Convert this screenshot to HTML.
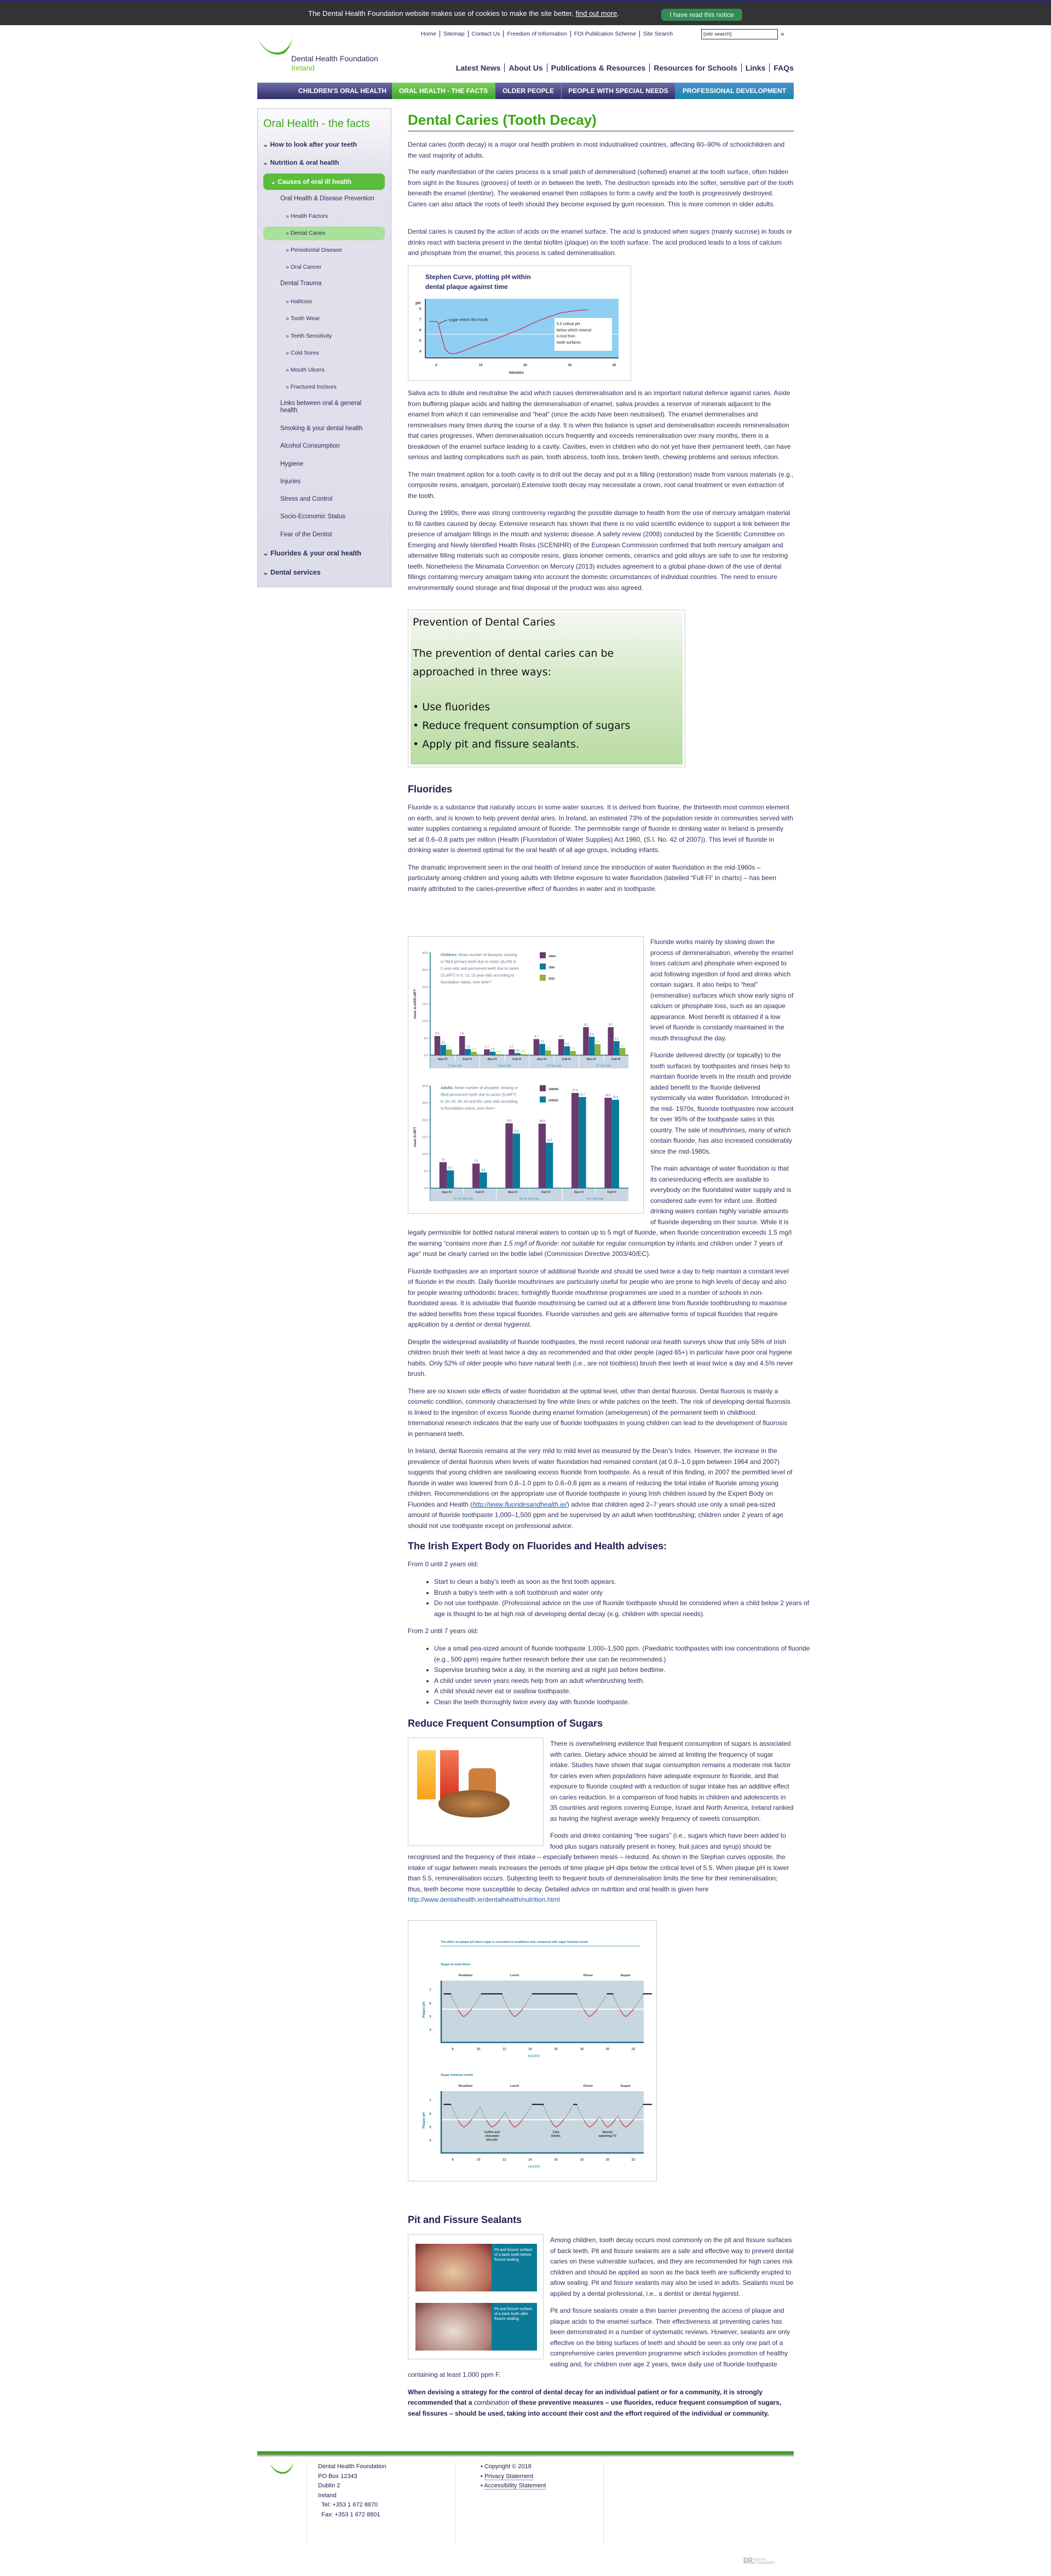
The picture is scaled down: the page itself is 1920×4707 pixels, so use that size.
<!DOCTYPE html>
<html><head><meta charset="utf-8"><title>Dental Caries (Tooth Decay)</title>
<style>
*{box-sizing:border-box;margin:0;padding:0}
body{width:1920px;height:4707px;position:relative;background:#fff;font-family:"Liberation Sans",Arial,sans-serif;color:#2b2d5c;overflow:hidden}
.abs{position:absolute}
.p{font-size:12px;line-height:19.5px;color:#2f3163}
.flow p{font-size:12px;line-height:19.5px;color:#2f3163;margin-bottom:12px}
h2{font-size:18px;color:#20224f;font-weight:bold}
.side a{position:absolute;font-size:11.5px;color:#2b2d5c;text-decoration:none}
.util span{padding:0 6px;border-right:1px solid #2b2d5c}
.nav span{padding:0 7px;border-right:1px solid #2b2d5c}
ul.b{margin-left:48px;font-size:12px;line-height:19.5px;color:#2f3163}
</style></head><body>

<!-- cookie bar -->
<div class="abs" style="left:0;top:0;width:1920px;height:46px;background:#333;border-top:4px solid #2a2a6a">
  <div class="abs" style="left:563px;top:13px;color:#fff;font-size:13px">The Dental Health Foundation website makes use of cookies to make the site better, <u>find out more</u>.</div>
  <div class="abs" style="left:1208px;top:12px;width:148px;height:22px;background:#2f8c55;border-radius:6px;color:#fff;font-size:12px;text-align:center;line-height:22px">I have read this notice</div>
</div>

<!-- utility nav -->
<div class="abs util" style="left:763px;top:56px;font-size:10.5px;color:#2b2d5c;white-space:nowrap">
<span>Home</span><span>Sitemap</span><span>Contact Us</span><span>Freedom of Information</span><span>FOI Publication Scheme</span><span style="border:none">Site Search</span></div>
<div class="abs" style="left:1281px;top:53px;width:140px;height:19px;border:1.5px solid #2b2d5c;font-size:9.5px;padding:3px 3px;color:#333">[site search]</div>
<div class="abs" style="left:1426px;top:55px;font-size:12px;color:#2b2d5c">»</div>

<!-- logo -->
<svg class="abs" style="left:470px;top:64px" width="80" height="44"><path d="M2 8 C12 30 30 40 48 34 C58 28 62 14 66 2 C60 20 50 32 36 32 C20 32 10 22 2 8Z" fill="#46b21a"/></svg>
<div class="abs" style="left:532px;top:99px;font-size:14px;color:#2b2d5c;line-height:17px">Dental Health Foundation<br><span style="color:#6cbf2a">Ireland</span></div>

<!-- main nav -->
<div class="abs nav" style="right:470px;top:116px;font-size:14px;font-weight:bold;color:#2b2d5c;white-space:nowrap">
<span>Latest News</span><span>About Us</span><span>Publications &amp; Resources</span><span>Resources for Schools</span><span>Links</span><span style="border:none;padding-right:0">FAQs</span></div>

<!-- category bar -->
<div class="abs" style="left:470px;top:151px;width:980px;height:30px;font-size:12px;font-weight:bold;color:#fff;line-height:30px;white-space:nowrap">
<div class="abs" style="left:0;width:246px;height:30px;background:linear-gradient(#6d6da8,#2d2d68);text-align:right;padding-right:10px">CHILDREN'S ORAL HEALTH</div>
<div class="abs" style="left:246px;width:188px;height:30px;background:linear-gradient(#7ed05a,#3ea82a);text-align:center">ORAL HEALTH - THE FACTS</div>
<div class="abs" style="left:434px;width:121px;height:30px;background:linear-gradient(#6d6da8,#2d2d68);text-align:center;border-left:1px solid #8888bb">OLDER PEOPLE</div>
<div class="abs" style="left:555px;width:208px;height:30px;background:linear-gradient(#6d6da8,#2d2d68);text-align:center;border-left:1px solid #8888bb">PEOPLE WITH SPECIAL NEEDS</div>
<div class="abs" style="left:763px;width:217px;height:30px;background:linear-gradient(#4a8fd0,#1d86a8);text-align:center">PROFESSIONAL DEVELOPMENT</div>
</div>

<!-- sidebar -->
<div class="abs side" style="left:470px;top:198px;width:245px;height:875px;border:1px solid #c0bfd8;background:linear-gradient(#fbfbfd 0,#e2e1ec 120px,#deddea 100%)">
<div class="abs" style="left:10px;top:16px;font-size:20px;color:#3aa815">Oral Health - the facts</div>
<a style="left:9px;top:58px;font-weight:bold;font-size:12px">&#8964; How to look after your teeth</a>
<a style="left:9px;top:91px;font-weight:bold;font-size:12px">&#8964; Nutrition &amp; oral health</a>
<div class="abs" style="left:10px;top:118px;width:222px;height:30px;background:#5cbd3a;border-radius:8px;color:#fff;font-weight:bold;font-size:12px;padding:8px 13px">&#8964; Causes of oral ill health</div>
<a style="left:41px;top:158px">Oral Health &amp; Disease Prevention</a>
<a style="left:51px;top:190px;font-size:10.5px">» Health Factors</a>
<div class="abs" style="left:10px;top:215px;width:222px;height:25px;background:#a9e09a;border-radius:8px;font-size:10.5px;padding:6px 41px">» Dental Caries</div>
<a style="left:51px;top:252px;font-size:10.5px">» Periodontal Disease</a>
<a style="left:51px;top:283px;font-size:10.5px">» Oral Cancer</a>
<a style="left:41px;top:313px">Dental Trauma</a>
<a style="left:51px;top:346px;font-size:10.5px">» Halitosis</a>
<a style="left:51px;top:377px;font-size:10.5px">» Tooth Wear</a>
<a style="left:51px;top:409px;font-size:10.5px">» Teeth Sensitivity</a>
<a style="left:51px;top:440px;font-size:10.5px">» Cold Sores</a>
<a style="left:51px;top:471px;font-size:10.5px">» Mouth Ulcers</a>
<a style="left:51px;top:502px;font-size:10.5px">» Fractured Incisors</a>
<a style="left:41px;top:532px;line-height:13px">Links between oral &amp; general<br>health</a>
<a style="left:41px;top:578px">Smoking &amp; your dental health</a>
<a style="left:41px;top:610px">Alcohol Consumption</a>
<a style="left:41px;top:643px">Hygiene</a>
<a style="left:41px;top:675px">Injuries</a>
<a style="left:41px;top:707px">Stress and Control</a>
<a style="left:41px;top:739px">Socio-Economic Status</a>
<a style="left:41px;top:772px">Fear of the Dentist</a>
<a style="left:9px;top:804px;font-weight:bold;font-size:12.5px">&#8964; Fluorides &amp; your oral health</a>
<a style="left:9px;top:839px;font-weight:bold;font-size:12.5px">&#8964; Dental services</a>
</div>

<!-- title -->
<div class="abs" style="left:745px;top:204px;width:705px;height:36px;border-bottom:1.5px solid #2b2d5c;font-size:26px;font-weight:bold;color:#3aa815">Dental Caries (Tooth Decay)</div>

<div class="abs p" style="left:745px;top:255px;width:705px">Dental caries (tooth decay) is a major oral health problem in most industrialised countries, affecting 60–90% of schoolchildren and the vast majority of adults.</div>
<div class="abs p" style="left:745px;top:305px;width:705px">The early manifestation of the caries process is a small patch of demineralised (softened) enamel at the tooth surface, often hidden from sight in the fissures (grooves) of teeth or in between the teeth. The destruction spreads into the softer, sensitive part of the tooth beneath the enamel (dentine). The weakened enamel then collapses to form a cavity and the tooth is progressively destroyed. Caries can also attack the roots of teeth should they become exposed by gum recession. This is more common in older adults.</div>
<div class="abs p" style="left:745px;top:414px;width:705px">Dental caries is caused by the action of acids on the enamel surface. The acid is produced when sugars (mainly sucrose) in foods or drinks react with bacteria present in the dental biofilm (plaque) on the tooth surface. The acid produced leads to a loss of calcium and phosphate from the enamel; this process is called demineralisation.</div>

<!-- Stephan curve -->
<svg class="abs" id="stephan" style="left:745px;top:485px;border:1px solid #ccc;background:#fff" width="408" height="211"></svg>

<div class="abs flow" style="left:745px;top:709px;width:705px">
<p>Saliva acts to dilute and neutralise the acid which causes demineralisation and is an important natural defence against caries. Aside from buffering plaque acids and halting the demineralisation of enamel, saliva provides a reservoir of minerals adjacent to the enamel from which it can remineralise and “heal” (once the acids have been neutralised). The enamel demineralises and remineralises many times during the course of a day. It is when this balance is upset and demineralisation exceeds remineralisation that caries progresses. When demineralisation occurs frequently and exceeds remineralisation over many months, there is a breakdown of the enamel surface leading to a cavity. Cavities, even in children who do not yet have their permanent teeth, can have serious and lasting complications such as pain, tooth abscess, tooth loss, broken teeth, chewing problems and serious infection.</p>
<p>The main treatment option for a tooth cavity is to drill out the decay and put in a filling (restoration) made from various materials (e.g., composite resins, amalgam, porcelain).Extensive tooth decay may necessitate a crown, root canal treatment or even extraction of the tooth.</p>
<p>During the 1990s, there was strong controversy regarding the possible damage to health from the use of mercury amalgam material to fill cavities caused by decay. Extensive research has shown that there is no valid scientific evidence to support a link between the presence of amalgam fillings in the mouth and systemic disease. A safety review (2008) conducted by the Scientific Committee on Emerging and Newly Identified Health Risks (SCENIHR) of the European Commission confirmed that both mercury amalgam and alternative filling materials such as composite resins, glass ionomer cements, ceramics and gold alloys are safe to use for restoring teeth. Nonetheless the Minamata Convention on Mercury (2013) includes agreement to a global phase-down of the use of dental fillings containing mercury amalgam taking into account the domestic circumstances of individual countries. The need to ensure environmentally sound storage and final disposal of the product was also agreed.</p>
</div>

<!-- prevention image -->
<div class="abs" style="left:745px;top:1114px;width:507px;height:288px;border:1px solid #ccc;padding:4px">
<div style="width:100%;height:100%;background:linear-gradient(#f6f8f4,#d8eacb 40%,#b9dca4);font-family:'DejaVu Sans',sans-serif;color:#111;padding:6px 4px">
<div style="font-size:19px;line-height:24px">Prevention of Dental Caries</div>
<div style="font-size:19px;line-height:34px;margin-top:28px">The prevention of dental caries can be<br>approached in three ways:</div>
<div style="font-size:19px;line-height:34px;margin-top:30px">• Use fluorides<br>• Reduce frequent consumption of sugars<br>• Apply pit and fissure sealants.</div>
</div></div>

<h2 class="abs" style="left:745px;top:1432px">Fluorides</h2>
<div class="abs flow" style="left:745px;top:1466px;width:705px">
<p>Fluoride is a substance that naturally occurs in some water sources. It is derived from fluorine, the thirteenth most common element on earth, and is known to help prevent dental aries. In Ireland, an estimated 73% of the population reside in communities served with water supplies containing a regulated amount of fluoride. The permissible range of fluoride in drinking water in Ireland is presently set at 0.6–0.8 parts per million (Health (Fluoridation of Water Supplies) Act 1960, (S.I. No. 42 of 2007)). This level of fluoride in drinking water is deemed optimal for the oral health of all age groups, including infants.</p>
<p>The dramatic improvement seen in the oral health of Ireland since the introduction of water fluoridation in the mid-1960s – particularly among children and young adults with lifetime exposure to water fluoridation (labelled “Full Fl” in charts) – has been mainly attributed to the caries-preventive effect of fluorides in water and in toothpaste.</p>
</div>

<div class="abs flow" style="left:745px;top:1711px;width:705px">
<svg id="dmft" style="float:left;margin:0 12px 6px 0;border:1px solid #ccc;background:#fff" width="431" height="507"></svg>
<p style="padding-top:1px">Fluoride works mainly by slowing down the process of demineralisation, whereby the enamel loses calcium and phosphate when exposed to acid following ingestion of food and drinks which contain sugars. It also helps to “heal” (remineralise) surfaces which show early signs of calcium or phosphate loss, such as an opaque appearance. Most benefit is obtained if a low level of fluoride is constantly maintained in the mouth throughout the day.</p>
<p>Fluoride delivered directly (or topically) to the tooth surfaces by toothpastes and rinses help to maintain fluoride levels in the mouth and provide added benefit to the fluoride delivered systemically via water fluoridation. Introduced in the mid- 1970s, fluoride toothpastes now account for over 95% of the toothpaste sales in this country. The sale of mouthrinses, many of which contain fluoride, has also increased considerably since the mid-1980s.</p>
<p>The main advantage of water fluoridation is that its cariesreducing effects are available to everybody on the fluoridated water supply and is considered safe even for infant use. Bottled drinking waters contain highly variable amounts of fluoride depending on their source. While it is legally permissible for bottled natural mineral waters to contain up to 5 mg/l of fluoride, when fluoride concentration exceeds 1.5 mg/l the warning <i>“contains more than 1.5 mg/l of fluoride: not suitable</i> for regular consumption by infants and children under 7 years of age” must be clearly carried on the bottle label (Commission Directive 2003/40/EC).</p>
<p>Fluoride toothpastes are an important source of additional fluoride and should be used twice a day to help maintain a constant level of fluoride in the mouth. Daily fluoride mouthrinses are particularly useful for people who are prone to high levels of decay and also for people wearing orthodontic braces; fortnightly fluoride mouthrinse programmes are used in a number of schools in non-fluoridated areas. It is advisable that fluoride mouthrinsing be carried out at a different time from fluoride toothbrushing to maximise the added benefits from these topical fluorides. Fluoride varnishes and gels are alternative forms of topical fluorides that require application by a dentist or dental hygienist.</p>
<p>Despite the widespread availability of fluoride toothpastes, the most recent national oral health surveys show that only 58% of Irish children brush their teeth at least twice a day as recommended and that older people (aged 65+) in particular have poor oral hygiene habits. Only 52% of older people who have natural teeth (i.e., are not toothless) brush their teeth at least twice a day and 4.5% never brush.</p>
<p>There are no known side effects of water fluoridation at the optimal level, other than dental fluorosis. Dental fluorosis is mainly a cosmetic condition, commonly characterised by fine white lines or white patches on the teeth. The risk of developing dental fluorosis is linked to the ingestion of excess fluoride during enamel formation (amelogenesis) of the permanent teeth in childhood. International research indicates that the early use of fluoride toothpastes in young children can lead to the development of fluorosis in permanent teeth.</p>
<p>In Ireland, dental fluorosis remains at the very mild to mild level as measured by the Dean’s Index. However, the increase in the prevalence of dental fluorosis when levels of water fluoridation had remained constant (at 0.8–1.0 ppm between 1964 and 2007) suggests that young children are swallowing excess fluoride from toothpaste. As a result of this finding, in 2007 the permitted level of fluoride in water was lowered from 0.8–1.0 ppm to 0.6–0.8 ppm as a means of reducing the total intake of fluoride among young children. Recommendations on the appropriate use of fluoride toothpaste in young Irish children issued by the Expert Body on Fluorides and Health (<i style="color:#1a5fa8;text-decoration:underline">http://www.fluoridesandhealth.ie/</i>) advise that children aged 2–7 years should use only a small pea-sized amount of fluoride toothpaste 1,000–1,500 ppm and be supervised by an adult when toothbrushing; children under 2 years of age should not use toothpaste except on professional advice.</p>
</div>

<h2 class="abs" style="left:745px;top:2815px">The Irish Expert Body on Fluorides and Health advises:</h2>
<div class="abs p" style="left:745px;top:2849px">From 0 until 2 years old:</div>
<ul class="abs b" style="left:745px;top:2881px;width:705px;padding-left:0">
<li>Start to clean a baby’s teeth as soon as the first tooth appears.</li>
<li>Brush a baby’s teeth with a soft toothbrush and water only</li>
<li>Do not use toothpaste. (Professional advice on the use of fluoride toothpaste should be considered when a child below 2 years of age is thought to be at high risk of developing dental decay (e.g. children with special needs).</li></ul>
<div class="abs p" style="left:745px;top:2971px">From 2 until 7 years old:</div>
<ul class="abs b" style="left:745px;top:3003px;width:705px">
<li>Use a small pea-sized amount of fluoride toothpaste 1,000–1,500 ppm. (Paediatric toothpastes with low concentrations of fluoride (e.g., 500 ppm) require further research before their use can be recommended.)</li>
<li>Supervise brushing twice a day, in the morning and at night just before bedtime.</li>
<li>A child under seven years needs help from an adult whenbrushing teeth.</li>
<li>A child should never eat or swallow toothpaste.</li>
<li>Clean the teeth thoroughly twice every day with fluoride toothpaste.</li></ul>

<h2 class="abs" style="left:745px;top:3139px">Reduce Frequent Consumption of Sugars</h2>
<div class="abs flow" style="left:745px;top:3175px;width:705px">
<div style="float:left;width:248px;height:198px;border:1px solid #ccc;margin:0 12px 8px 0;position:relative;background:#fff">
 <div style="position:absolute;left:16px;top:22px;width:34px;height:90px;background:linear-gradient(#ffd15a,#f6a21c);border-radius:2px"></div>
 <div style="position:absolute;left:58px;top:22px;width:34px;height:90px;background:linear-gradient(#f47a5a,#d8321c)"></div>
 <div style="position:absolute;left:110px;top:55px;width:50px;height:60px;background:#c46a1a;border-radius:10px;opacity:.85"></div>
 <div style="position:absolute;left:55px;top:95px;width:130px;height:50px;background:radial-gradient(ellipse,#c98c4a,#8a5a30 70%,transparent 72%)"></div>
</div>
<p style="padding-top:2px">There is overwhelming evidence that frequent consumption of sugars is associated with caries. Dietary advice should be aimed at limiting the frequency of sugar intake. Studies have shown that sugar consumption remains a moderate risk factor for caries even when populations have adequate exposure to fluoride, and that exposure to fluoride coupled with a reduction of sugar intake has an additive effect on caries reduction. In a comparison of food habits in children and adolescents in 35 countries and regions covering Europe, Israel and North America, Ireland ranked as having the highest average weekly frequency of sweets consumption.</p>
<p>Foods and drinks containing “free sugars” (i.e., sugars which have been added to food plus sugars naturally present in honey, fruit juices and syrup) should be recognised and the frequency of their intake – especially between meals – reduced. As shown in the Stephan curves opposite, the intake of sugar between meals increases the periods of time plaque pH dips below the critical level of 5.5. When plaque pH is lower than 5.5, remineralisation occurs. Subjecting teeth to frequent bouts of demineralisation limits the time for their remineralisation; thus, teeth become more susceptible to decay. Detailed advice on nutrition and oral health is given here <a style="color:#1a5fa8">http://www.dentalhealth.ie/dentalhealth/nutrition.html</a></p>
</div>

<!-- sugar chart -->
<svg class="abs" id="sugar" style="left:745px;top:3509px;border:1px solid #ccc;background:#fff" width="455" height="477"></svg>

<h2 class="abs" style="left:745px;top:4046px">Pit and Fissure Sealants</h2>
<div class="abs flow" style="left:745px;top:4082px;width:705px">
<div style="float:left;width:248px;height:229px;border:1px solid #ccc;margin:0 12px 4px 0;position:relative">
 <div style="position:absolute;left:13px;top:17px;width:139px;height:87px;background:radial-gradient(ellipse at 50% 60%,#e6c8a4,#b56a58 70%,#6a2a2a)"></div>
 <div style="position:absolute;left:152px;top:17px;width:83px;height:87px;background:#0c7b98;color:#fff;font-size:7px;padding:7px 5px;line-height:9px">Pit and fissure surface of a back tooth before fissure sealing</div>
 <div style="position:absolute;left:13px;top:125px;width:139px;height:87px;background:radial-gradient(ellipse at 50% 60%,#eadfd6,#b08078 70%,#6a3a3a)"></div>
 <div style="position:absolute;left:152px;top:125px;width:83px;height:87px;background:#0c7b98;color:#fff;font-size:7px;padding:7px 5px;line-height:9px">Pit and fissure surface of a back tooth <i>after</i> fissure sealing</div>
</div>
<p style="padding-top:2px">Among children, tooth decay occurs most commonly on the pit and fissure surfaces of back teeth. Pit and fissure sealants are a safe and effective way to prevent dental caries on these vulnerable surfaces, and they are recommended for high caries risk children and should be applied as soon as the back teeth are sufficiently erupted to allow sealing. Pit and fissure sealants may also be used in adults. Sealants must be applied by a dental professional, i.e., a dentist or dental hygienist.</p>
<p>Pit and fissure sealants create a thin barrier preventing the access of plaque and plaque acids to the enamel surface. Their effectiveness at preventing caries has been demonstrated in a number of systematic reviews. However, sealants are only effective on the biting surfaces of teeth and should be seen as only one part of a comprehensive caries prevention programme which includes promotion of healthy eating and, for children over age 2 years, twice daily use of fluoride toothpaste containing at least 1,000 ppm F.</p>
<p style="font-weight:bold;color:#20224f">When devising a strategy for the control of dental decay for an individual patient or for a community, it is strongly recommended that a <i style="font-weight:normal">combination</i> of these preventive measures – use fluorides, reduce frequent consumption of sugars, seal fissures – should be used, taking into account their cost and the effort required of the individual or community.</p>
</div>

<!-- footer -->
<div class="abs" style="left:470px;top:4479px;width:980px;height:11px;background:linear-gradient(#3aa815 0,#3aa815 45%,#888 55%,#fff 100%)"></div>
<svg class="abs" style="left:491px;top:4498px" width="50" height="26"><path d="M2 4 C10 20 22 26 34 20 C40 16 44 8 46 1 C40 14 32 20 24 19 C14 18 8 12 2 4Z" fill="#46b21a"/></svg>
<div class="abs" style="left:560px;top:4499px;width:1px;height:150px;background:#e4e4e4"></div>
<div class="abs" style="left:831px;top:4499px;width:1px;height:150px;background:#e4e4e4"></div>
<div class="abs" style="left:1102px;top:4499px;width:1px;height:150px;background:#e4e4e4"></div>
<div class="abs" style="left:581px;top:4499px;font-size:11px;line-height:17.5px;color:#20224f">Dental Health Foundation<br>PO Box 12343<br>Dublin 2<br>Ireland<br>&nbsp;&nbsp;Tel: +353 1 672 8870<br>&nbsp;&nbsp;Fax: +353 1 672 8801</div>
<div class="abs" style="left:878px;top:4499px;font-size:11px;line-height:17.5px;color:#20224f">▪ Copyright © 2018<br>▪ <span style="border-bottom:1px dotted #20224f">Privacy Statement</span><br>▪ <span style="border-bottom:1px dotted #20224f">Accessibility Statement</span></div>
<div class="abs" style="left:1358px;top:4675px;font-size:6px;color:#aaa;line-height:6px"><b style="font-size:12px;float:left;margin-right:2px">DR</b>DIGITAL<br>REVOLUTIONARIES</div>

<script>
// ---------- Children DMFT ----------
const childGroups = ["5 Year-olds","8 Year-olds","12 Year-olds","15 Year-olds"];
const childClusters = ["Non Fl","Full Fl","Non Fl","Full Fl","Non Fl","Full Fl","Non Fl","Full Fl"];
const child1960s = [5.6,5.6,1.7,1.7,4.7,4.7,8.2,8.2];
const child1984 = [3.0,1.8,1.0,0.6,3.3,2.6,5.4,4.1];
const child2002 = [1.7,1.0,0.3,0.3,1.4,1.2,3.2,2.1];
const childSeriesNames = ["1960s","1984","2002"];
// ---------- Adults DMFT ----------
const adultGroups = ["16–24 Year-olds","35–44 Year-olds","65+ Year-olds"];
const adultClusters = ["Non Fl","Full Fl","Non Fl","Full Fl","Non Fl","Full Fl"];
const adult1989 = [7.6,7.2,19.0,18.9,27.9,26.5];
const adult2000 = [5.2,4.6,16.0,13.3,26.7,25.9];
const adultSeriesNames = ["1989/90","2000/02"];
const yTicks = [0,5,10,15,20,25,30];
// ---------- Stephan curve ----------
const stephanMinutes = [-1.6,0,0.4,1.2,2.0,3.0,4.5,7,10,13,16,19,22,25,28,31,34];
const stephanPH = [6.8,6.8,6.7,5.4,4.2,3.8,3.8,4.2,4.7,5.1,5.6,6.1,6.7,7.2,7.6,7.8,7.9];
const stephanXTicks = [0,10,20,30,40];
const stephanYTicks = [4,5,6,7,8];
// ---------- Sugar timing ----------
const mealEvents = [8.85,12.8,18.6,21.4];
const betweenMealEvents = [8.85,11.05,12.8,16.0,18.6,20.0,21.4];
const mealNames = ["Breakfast","Lunch","Dinner","Supper"];
const mealHours = [9.0,12.8,18.5,21.4];
const hourTicks = [8,10,12,14,16,18,20,22];
const phTicks = [4,5,6,7];
const snackLabels = ["Coffee and|chocolate|biscuits","Cola|Drinks","Sweets|watching TV"];
const snackLabelHours = [11.05,16.0,20.0];

const NS="http://www.w3.org/2000/svg";
function mk(svg,tag,attrs,name){const e=document.createElementNS(NS,tag);for(const k in attrs)e.setAttribute(k,attrs[k]);


svg.appendChild(e);return e;}
function txt(svg,x,y,s,attrs,name){const t=mk(svg,'text',Object.assign({x:x,y:y,'font-family':'Liberation Sans, sans-serif'},attrs),name);t.textContent=s;return t;}

// ===== DMFT chart =====
(function(){
const svg=document.getElementById('dmft');
const ox=40,right=402;
const cols=["#6b3a6e","#0a7a9c","#8ab43f"];
function axis(zeroY,topY,title,clusters,groups){
 const sc=v=>zeroY-(v/30)*(zeroY-topY);
 yTicks.forEach(t=>{txt(svg,ox-4,sc(t)+2,t.toFixed(1),{'font-size':5.5,'text-anchor':'end',fill:'#666'},'y-tick-label');
  mk(svg,'line',{x1:ox-2,x2:ox,y1:sc(t),y2:sc(t),stroke:'#1a6e8a'},'y-tick');});
 mk(svg,'line',{x1:ox,x2:ox,y1:topY,y2:zeroY+24,stroke:'#1a6e8a','stroke-width':1.5},'y-axis');
 txt(svg,14,(zeroY+topY)/2,title,{'font-size':6,fill:'#333','text-anchor':'middle',transform:`rotate(-90 14 ${(zeroY+topY)/2})`,'font-weight':'bold'},'y-axis-title');
 const cw=(right-ox)/clusters.length;
 mk(svg,'rect',{x:ox,y:zeroY,width:right-ox,height:24,fill:'#c8d7e3'},'category-band');
 mk(svg,'line',{x1:ox,x2:right,y1:zeroY,y2:zeroY,stroke:'#1a6e8a','stroke-width':1.5},'x-axis');
 clusters.forEach((c,i)=>{txt(svg,ox+cw*(i+0.5),zeroY+9,c,{'font-size':5.5,'font-weight':'bold','text-anchor':'middle',fill:'#333'},'cluster-label');
  if(i%2==1) mk(svg,'line',{x1:ox+cw*i,x2:ox+cw*i,y1:zeroY,y2:zeroY+12,stroke:'#fff'},'cluster-divider');});
 groups.forEach((g,i)=>{txt(svg,ox+cw*(2*i+1),zeroY+21,g,{'font-size':5,'text-anchor':'middle',fill:'#4a8aa8'},'group-label');
  if(i>0) mk(svg,'line',{x1:ox+cw*2*i,x2:ox+cw*2*i,y1:zeroY,y2:zeroY+24,stroke:'#fff'},'group-divider');});
 return {sc,cw};
}
let A=axis(216,29,"mean d₃mft/D₃MFT",childClusters,childGroups);
const cs=[child1960s,child1984,child2002];
childClusters.forEach((c,i)=>{cs.forEach((ser,s)=>{const x=ox+A.cw*i+7.7+s*10.7,v=ser[i];
 mk(svg,'rect',{x:x,y:A.sc(v),width:10.5,height:216-A.sc(v),fill:cols[s]},'bar-child-'+childSeriesNames[s]);
 txt(svg,x+5.2,A.sc(v)-3,v.toFixed(1),{'font-size':5,'text-anchor':'middle',fill:cols[s]},'bar-value');});});
childSeriesNames.forEach((n,s)=>{mk(svg,'rect',{x:240,y:28+s*20.5,width:11,height:11,fill:cols[s]},'legend-swatch');txt(svg,256,37+s*20.5,n,{'font-size':5,'font-weight':'bold',fill:'#333'},'legend-entry');});
[["Children:"," Mean number of decayed, missing"],["","or filled primary teeth due to caries (d₃mft) in"],["","5 year-olds and permanent teeth due to caries"],["","(D₃MFT) in 8, 12, 15 year-olds according to"],["","fluoridation status, over time¹⁰"]].forEach((l,i)=>{const t=txt(svg,59,35+i*12.5,'',{'font-size':7,fill:'#6a7a8a'},'chart-caption');t.innerHTML=(l[0]?'<tspan fill="#3a86a8" font-weight="bold">'+l[0]+'</tspan>':'')+l[1];});
let B=axis(459,272,"mean D₃MFT",adultClusters,adultGroups);
const as=[adult1989,adult2000];
adultClusters.forEach((c,i)=>{as.forEach((ser,s)=>{const x=ox+B.cw*i+16.7+s*13.3,v=ser[i];
 mk(svg,'rect',{x:x,y:B.sc(v),width:13.3,height:459-B.sc(v),fill:cols[s]},'bar-adult-'+adultSeriesNames[s]);
 txt(svg,x+6.6,B.sc(v)-3,v.toFixed(1),{'font-size':5,'text-anchor':'middle',fill:cols[s]},'bar-value');});});
adultSeriesNames.forEach((n,s)=>{mk(svg,'rect',{x:240,y:271+s*20.5,width:11,height:11,fill:cols[s]},'legend-swatch');txt(svg,256,280+s*20.5,n,{'font-size':5,'font-weight':'bold',fill:'#333'},'legend-entry');});
[["Adults:"," Mean number of decayed, missing or"],["","filled permanent teeth due to caries (D₃MFT)"],["","in 16–24, 35–44 and 65+ year-olds according"],["","to fluoridation status, over time¹¹"]].forEach((l,i)=>{const t=txt(svg,59,278+i*12.5,'',{'font-size':7,fill:'#6a7a8a'},'chart-caption');t.innerHTML=(l[0]?'<tspan fill="#3a86a8" font-weight="bold">'+l[0]+'</tspan>':'')+l[1];});
})();

// ===== Stephan curve =====
(function(){
const svg=document.getElementById('stephan');
const X=m=>51+(m/40)*325, Y=p=>78+(8-p)*19.5;
txt(svg,31,24,"Stephen Curve, plotting pH within",{'font-size':12,'font-weight':'bold',fill:'#2b2d6c'},'chart-title');
txt(svg,31,42,"dental plaque against time",{'font-size':12,'font-weight':'bold',fill:'#2b2d6c'},'chart-title');
txt(svg,13,70,"pH",{'font-size':7,'font-weight':'bold',fill:'#333'},'y-axis-title');
mk(svg,'rect',{x:31,y:60,width:353,height:108,fill:'#8fcff3'},'plot-area');
mk(svg,'line',{x1:31,x2:384,y1:Y(5.6),y2:Y(5.6),stroke:'#fff','stroke-width':1},'critical-ph-line');
mk(svg,'line',{x1:31,x2:31,y1:60,y2:168,stroke:'#222','stroke-width':1.5},'y-axis');
mk(svg,'line',{x1:31,x2:384,y1:168,y2:168,stroke:'#222','stroke-width':1.5},'x-axis');
stephanYTicks.forEach(t=>txt(svg,20,Y(t)+2,String(t),{'font-size':6,'font-weight':'bold',fill:'#333'},'y-tick-label'));
stephanXTicks.forEach(t=>txt(svg,X(t),183,String(t),{'font-size':6,'font-weight':'bold','text-anchor':'middle',fill:'#333'},'x-tick-label'));
txt(svg,X(18),197,"minutes",{'font-size':7,'font-weight':'bold','text-anchor':'middle',fill:'#333'},'x-axis-title');
mk(svg,'rect',{x:267,y:95,width:105,height:60,fill:'#fff'},'annotation-box');
["5.5 critical pH","below which mineral","is lost from","tooth surfaces"].forEach((s,i)=>txt(svg,271,108+i*11.3,s,{'font-size':7,fill:'#222'},'annotation-text'));
mk(svg,'polyline',{points:stephanMinutes.map((m,i)=>X(m)+','+Y(stephanPH[i])).join(' '),fill:'none',stroke:'#d3345a','stroke-width':1.4},'ph-curve');
mk(svg,'line',{x1:X(0.6),y1:Y(6.6),x2:X(2.5),y2:Y(6.95),stroke:'#111','stroke-width':0.8},'annotation-arrow');
txt(svg,X(2.8),Y(6.95)+2,"sugar enters the mouth",{'font-size':7,fill:'#222'},'annotation-text');
})();

// ===== Sugar chart =====
(function(){
const svg=document.getElementById('sugar');
const HX=h=>81+(h-8)*23.57;
txt(svg,59,40,"The effect on plaque pH when sugar is consumed at mealtimes only compared with sugar between meals",{'font-size':5.4,'font-weight':'bold',fill:'#1a7a9a'},'chart-title');
mk(svg,'line',{x1:59,x2:423,y1:46,y2:46,stroke:'#1a7a9a','stroke-width':0.7},'title-rule');
function dip(d){ if(d<-1||d>1.35) return 6.7; const r=d<0?(-d/1):(d/1.35); return 5.0+1.7*Math.pow(r,1.4); }
function panel(off,title,events,labels){
 const PY=p=>126+off+(7-p)*24.3;
 txt(svg,59,81+off,title,{'font-size':5.8,'font-weight':'bold',fill:'#1a7a9a'},'panel-title');
 mealNames.forEach((n,i)=>txt(svg,HX(mealHours[i]),101+off,n,{'font-size':5.5,'font-weight':'bold','text-anchor':'middle',fill:'#333'},'meal-label'));
 mk(svg,'rect',{x:59,y:109+off,width:371,height:113,fill:'#c8d6e0'},'plot-area');
 mk(svg,'line',{x1:59,x2:430,y1:PY(5.55),y2:PY(5.55),stroke:'#fff','stroke-width':2},'critical-ph-line');
 mk(svg,'line',{x1:60,x2:60,y1:109+off,y2:222+off,stroke:'#1b6d8c','stroke-width':2.5},'y-axis');
 mk(svg,'line',{x1:59,x2:430,y1:222+off,y2:222+off,stroke:'#1b6d8c','stroke-width':2.5},'x-axis');
 phTicks.forEach(t=>txt(svg,40,PY(t)+2,String(t),{'font-size':6,'font-weight':'bold',fill:'#1a6e8a','text-anchor':'middle'},'y-tick-label'));
 txt(svg,30,PY(5.5),"Plaque pH",{'font-size':6,'font-weight':'bold',fill:'#1a7a9a','text-anchor':'middle',transform:`rotate(-90 30 ${PY(5.5)})`},'y-axis-title');
 hourTicks.forEach(t=>txt(svg,HX(t),236+off,String(t),{'font-size':6,'font-weight':'bold',fill:'#1a6e8a','text-anchor':'middle'},'x-tick-label'));
 let runs=[],cur=null;
 for(let h=7.3;h<=23.45;h+=0.02){let p=6.7;events.forEach(e=>{p=Math.min(p,dip(h-e));});
  const k=p>=6.69?'flat':(p<5.55?'low':'mid');
  if(!cur||cur.k!==k){if(cur)cur.pts.push([HX(h),PY(p)]);cur={k:k,pts:[]};runs.push(cur);} cur.pts.push([HX(h),PY(p)]);}
 runs.forEach(r=>{const pts=r.pts.map(q=>q[0].toFixed(1)+','+q[1].toFixed(1)).join(' ');
  if(r.k==='flat') mk(svg,'polyline',{points:pts,fill:'none',stroke:'#111','stroke-width':2},'ph-line-resting');
  else if(r.k==='low') mk(svg,'polyline',{points:pts,fill:'none',stroke:'#d02a2a','stroke-width':1.2},'ph-line-demineralising');
  else mk(svg,'polyline',{points:pts,fill:'none',stroke:'#111','stroke-width':1,'stroke-dasharray':'1 2.5'},'ph-line-transition');});
 if(labels) labels.forEach((l,i)=>l.split('|').forEach((s,j)=>txt(svg,HX(snackLabelHours[i]),PY(4.55)+j*7,s,{'font-size':5.5,'font-weight':'bold','text-anchor':'middle',fill:'#222'},'snack-label')));
}
panel(0,"Sugar at meal times",mealEvents,null);
txt(svg,HX(14.3),249,"HOURS",{'font-size':6,fill:'#1a7a9a','text-anchor':'middle'},'x-axis-title');
panel(202,"Sugar between meals",betweenMealEvents,snackLabels);
txt(svg,HX(14.3),451,"HOURS",{'font-size':6,fill:'#1a7a9a','text-anchor':'middle'},'x-axis-title');
})();
</script>
</body></html>
